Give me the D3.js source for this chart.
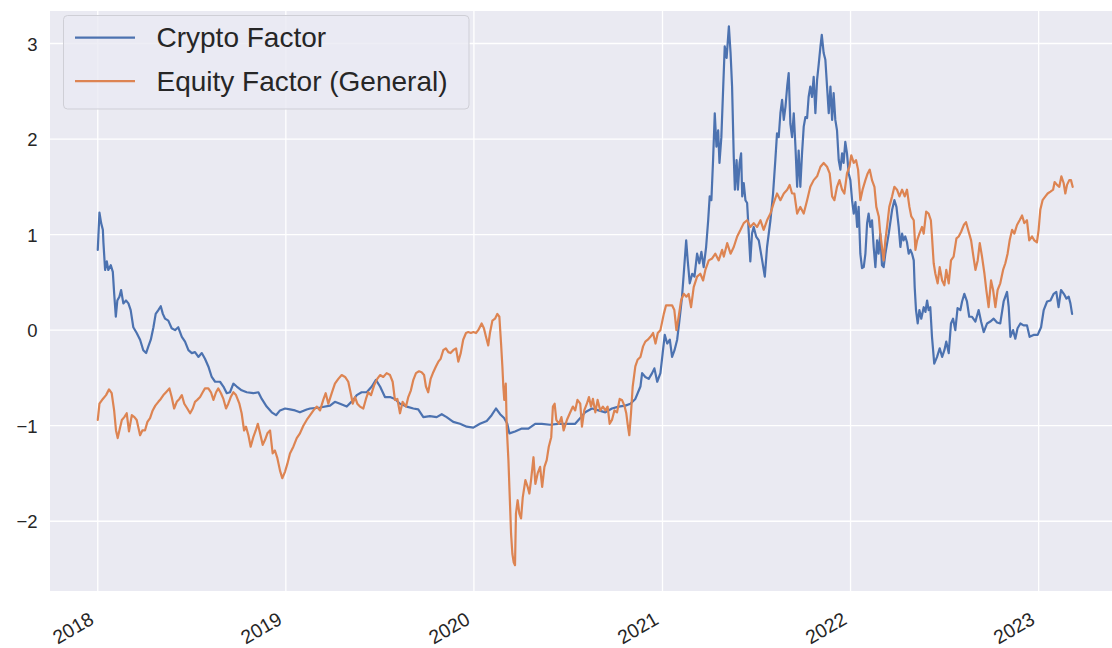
<!DOCTYPE html>
<html><head><meta charset="utf-8">
<script src="https://cdn.jsdelivr.net/npm/d3@7"></script>
<style>
body{margin:0;background:#fff;}
text{font-family:"Liberation Sans",Arial,sans-serif;fill:#262626;}
</style>
</head><body>
<svg id="chart" width="1112" height="648"></svg>
<script>
// ---- data (decimal year, factor value) ----
const seriesNames = ["Crypto Factor", "Equity Factor (General)"];
const seriesColors = ["#4c72b0", "#dd8452"];
const yTicks = [-2, -1, 0, 1, 2, 3];
const xTickYears = [2018, 2019, 2020, 2021, 2022, 2023];

const cryptoFactor = [
[2018.000,0.84],[2018.009,1.23],[2018.018,1.12],[2018.027,1.05],[2018.030,0.92],[2018.039,0.63],[2018.048,0.72],[2018.056,0.63],[2018.069,0.68],[2018.080,0.61],[2018.087,0.39],[2018.096,0.14],[2018.104,0.31],[2018.115,0.35],[2018.124,0.42],[2018.136,0.28],[2018.150,0.31],[2018.163,0.28],[2018.175,0.21],[2018.189,0.03],[2018.207,-0.03],[2018.225,-0.10],[2018.242,-0.21],[2018.257,-0.24],[2018.269,-0.17],[2018.282,-0.10],[2018.296,0.03],[2018.308,0.17],[2018.322,0.21],[2018.335,0.25],[2018.346,0.17],[2018.358,0.12],[2018.375,0.10],[2018.393,0.02],[2018.411,0.00],[2018.428,0.03],[2018.447,-0.07],[2018.464,-0.12],[2018.482,-0.21],[2018.500,-0.24],[2018.517,-0.23],[2018.535,-0.28],[2018.553,-0.24],[2018.570,-0.30],[2018.588,-0.38],[2018.606,-0.49],[2018.624,-0.54],[2018.650,-0.54],[2018.668,-0.59],[2018.686,-0.66],[2018.703,-0.65],[2018.721,-0.56],[2018.739,-0.59],[2018.765,-0.63],[2018.792,-0.65],[2018.827,-0.66],[2018.854,-0.65],[2018.872,-0.72],[2018.898,-0.80],[2018.925,-0.86],[2018.948,-0.89],[2018.969,-0.84],[2018.996,-0.82],
[2019.022,-0.83],[2019.049,-0.84],[2019.075,-0.86],[2019.111,-0.83],[2019.129,-0.82],[2019.182,-0.81],[2019.235,-0.79],[2019.261,-0.75],[2019.288,-0.77],[2019.324,-0.80],[2019.359,-0.73],[2019.377,-0.68],[2019.403,-0.65],[2019.430,-0.65],[2019.457,-0.59],[2019.479,-0.52],[2019.501,-0.59],[2019.527,-0.70],[2019.554,-0.70],[2019.580,-0.72],[2019.607,-0.77],[2019.643,-0.80],[2019.678,-0.82],[2019.704,-0.83],[2019.731,-0.91],[2019.766,-0.90],[2019.802,-0.91],[2019.829,-0.88],[2019.855,-0.91],[2019.890,-0.96],[2019.926,-0.98],[2019.962,-1.01],[2019.997,-1.02],
[2020.032,-0.98],[2020.068,-0.95],[2020.094,-0.89],[2020.117,-0.82],[2020.139,-0.88],[2020.160,-0.92],[2020.177,-0.98],[2020.188,-1.08],[2020.218,-1.06],[2020.254,-1.03],[2020.289,-1.03],[2020.325,-0.98],[2020.360,-0.98],[2020.404,-0.99],[2020.448,-0.98],[2020.493,-0.98],[2020.537,-0.98],[2020.564,-0.92],[2020.590,-0.86],[2020.626,-0.82],[2020.661,-0.84],[2020.697,-0.86],[2020.732,-0.82],[2020.767,-0.80],[2020.803,-0.79],[2020.830,-0.77],[2020.856,-0.72],[2020.883,-0.59],[2020.892,-0.45],[2020.909,-0.49],[2020.927,-0.51],[2020.945,-0.45],[2020.957,-0.40],[2020.972,-0.54],[2020.989,-0.45],
[2021.001,-0.24],[2021.012,-0.05],[2021.025,-0.14],[2021.039,-0.10],[2021.051,-0.28],[2021.064,-0.21],[2021.078,-0.10],[2021.090,0.10],[2021.104,0.35],[2021.113,0.59],[2021.126,0.94],[2021.134,0.73],[2021.145,0.49],[2021.158,0.59],[2021.170,0.56],[2021.184,0.80],[2021.196,0.70],[2021.207,0.82],[2021.219,0.66],[2021.232,0.87],[2021.243,1.15],[2021.251,1.40],[2021.260,1.36],[2021.269,1.78],[2021.278,2.27],[2021.287,1.92],[2021.296,2.09],[2021.303,1.75],[2021.313,2.02],[2021.323,2.55],[2021.331,2.97],[2021.341,2.85],[2021.353,3.18],[2021.362,2.90],[2021.370,2.55],[2021.379,1.81],[2021.385,1.47],[2021.394,1.78],[2021.401,1.47],[2021.410,1.75],[2021.418,1.85],[2021.424,1.40],[2021.432,1.54],[2021.441,1.36],[2021.450,1.33],[2021.459,1.01],[2021.467,0.72],[2021.476,1.01],[2021.485,1.08],[2021.498,0.98],[2021.512,0.94],[2021.530,0.73],[2021.544,0.56],[2021.556,0.87],[2021.574,1.15],[2021.588,1.43],[2021.600,1.78],[2021.609,2.06],[2021.618,2.02],[2021.627,2.27],[2021.636,2.41],[2021.645,2.20],[2021.654,2.34],[2021.663,2.55],[2021.671,2.69],[2021.680,2.16],[2021.689,2.02],[2021.698,2.27],[2021.707,1.92],[2021.716,1.50],[2021.724,1.88],[2021.733,1.50],[2021.742,1.85],[2021.751,2.13],[2021.760,2.23],[2021.769,2.22],[2021.777,2.44],[2021.786,2.55],[2021.795,2.44],[2021.804,2.65],[2021.813,2.27],[2021.822,2.62],[2021.831,2.79],[2021.840,2.97],[2021.847,3.09],[2021.857,2.90],[2021.866,2.83],[2021.875,2.55],[2021.884,2.27],[2021.893,2.55],[2021.902,2.20],[2021.910,2.48],[2021.919,2.20],[2021.928,2.09],[2021.937,1.78],[2021.946,1.68],[2021.955,1.85],[2021.963,1.75],[2021.972,1.97],[2021.981,1.85],[2021.990,1.64],[2021.999,1.57],
[2022.008,1.36],[2022.017,1.22],[2022.026,1.34],[2022.035,1.08],[2022.043,1.29],[2022.052,0.80],[2022.061,0.65],[2022.070,0.66],[2022.079,0.80],[2022.088,1.12],[2022.096,1.22],[2022.105,1.08],[2022.114,1.15],[2022.123,0.87],[2022.132,0.66],[2022.141,0.94],[2022.149,0.80],[2022.158,1.01],[2022.167,0.68],[2022.176,0.66],[2022.185,0.80],[2022.203,1.01],[2022.221,1.26],[2022.233,1.36],[2022.244,1.29],[2022.256,1.08],[2022.265,0.87],[2022.274,1.01],[2022.282,0.94],[2022.291,0.98],[2022.300,0.92],[2022.309,0.80],[2022.318,0.84],[2022.327,0.80],[2022.336,0.73],[2022.341,0.45],[2022.348,0.21],[2022.357,0.07],[2022.366,0.21],[2022.376,0.12],[2022.389,0.24],[2022.398,0.19],[2022.407,0.31],[2022.415,0.21],[2022.424,0.24],[2022.433,-0.07],[2022.445,-0.35],[2022.460,-0.28],[2022.474,-0.19],[2022.487,-0.28],[2022.499,-0.21],[2022.509,-0.12],[2022.522,-0.24],[2022.534,0.07],[2022.545,0.12],[2022.557,0.00],[2022.569,0.23],[2022.584,0.21],[2022.593,0.30],[2022.605,0.38],[2022.619,0.30],[2022.631,0.14],[2022.646,0.14],[2022.664,0.09],[2022.681,0.21],[2022.694,0.09],[2022.708,-0.02],[2022.726,0.07],[2022.743,0.09],[2022.761,0.12],[2022.779,0.08],[2022.796,0.07],[2022.814,0.30],[2022.832,0.40],[2022.841,0.24],[2022.850,-0.07],[2022.864,0.00],[2022.876,-0.09],[2022.888,0.02],[2022.903,0.07],[2022.920,0.05],[2022.938,0.05],[2022.952,-0.07],[2022.973,-0.05],[2022.995,-0.05],
[2023.013,0.03],[2023.027,0.21],[2023.045,0.30],[2023.063,0.31],[2023.080,0.38],[2023.094,0.40],[2023.106,0.24],[2023.119,0.42],[2023.134,0.38],[2023.148,0.33],[2023.160,0.35],[2023.169,0.28],[2023.178,0.17]
];

const equityFactor = [
[2018.000,-0.94],[2018.009,-0.77],[2018.027,-0.72],[2018.044,-0.68],[2018.060,-0.62],[2018.074,-0.66],[2018.087,-0.84],[2018.097,-1.05],[2018.106,-1.13],[2018.115,-1.05],[2018.128,-0.94],[2018.141,-0.91],[2018.154,-0.87],[2018.166,-1.06],[2018.181,-0.89],[2018.195,-0.91],[2018.207,-0.94],[2018.225,-1.10],[2018.237,-1.05],[2018.251,-1.05],[2018.264,-0.96],[2018.278,-0.92],[2018.292,-0.84],[2018.306,-0.79],[2018.322,-0.75],[2018.335,-0.72],[2018.349,-0.68],[2018.363,-0.65],[2018.381,-0.61],[2018.393,-0.70],[2018.406,-0.82],[2018.420,-0.75],[2018.434,-0.72],[2018.447,-0.68],[2018.460,-0.77],[2018.476,-0.82],[2018.491,-0.87],[2018.505,-0.82],[2018.517,-0.75],[2018.529,-0.73],[2018.544,-0.70],[2018.558,-0.65],[2018.570,-0.61],[2018.588,-0.61],[2018.602,-0.65],[2018.615,-0.73],[2018.629,-0.65],[2018.641,-0.61],[2018.655,-0.66],[2018.668,-0.72],[2018.682,-0.82],[2018.694,-0.77],[2018.707,-0.70],[2018.721,-0.65],[2018.735,-0.68],[2018.753,-0.77],[2018.765,-0.87],[2018.778,-1.05],[2018.788,-1.01],[2018.801,-1.10],[2018.813,-1.22],[2018.827,-1.12],[2018.840,-1.05],[2018.851,-0.98],[2018.863,-1.08],[2018.877,-1.20],[2018.889,-1.15],[2018.902,-1.08],[2018.916,-1.05],[2018.930,-1.29],[2018.942,-1.26],[2018.955,-1.34],[2018.969,-1.47],[2018.981,-1.55],[2018.996,-1.48],
[2019.008,-1.40],[2019.022,-1.29],[2019.040,-1.22],[2019.058,-1.13],[2019.075,-1.08],[2019.093,-1.00],[2019.111,-0.94],[2019.129,-0.89],[2019.147,-0.84],[2019.164,-0.80],[2019.182,-0.84],[2019.199,-0.73],[2019.212,-0.66],[2019.226,-0.77],[2019.244,-0.66],[2019.261,-0.56],[2019.279,-0.51],[2019.297,-0.47],[2019.315,-0.49],[2019.332,-0.54],[2019.345,-0.66],[2019.356,-0.77],[2019.368,-0.70],[2019.380,-0.77],[2019.394,-0.80],[2019.412,-0.82],[2019.426,-0.72],[2019.438,-0.65],[2019.453,-0.68],[2019.469,-0.58],[2019.486,-0.51],[2019.501,-0.47],[2019.518,-0.49],[2019.536,-0.45],[2019.554,-0.47],[2019.568,-0.54],[2019.580,-0.73],[2019.593,-0.72],[2019.607,-0.87],[2019.621,-0.75],[2019.639,-0.80],[2019.651,-0.70],[2019.665,-0.63],[2019.678,-0.52],[2019.692,-0.45],[2019.708,-0.43],[2019.722,-0.44],[2019.735,-0.47],[2019.745,-0.59],[2019.757,-0.65],[2019.770,-0.51],[2019.784,-0.44],[2019.798,-0.38],[2019.811,-0.33],[2019.823,-0.30],[2019.837,-0.21],[2019.851,-0.19],[2019.864,-0.23],[2019.876,-0.24],[2019.890,-0.21],[2019.905,-0.19],[2019.917,-0.33],[2019.930,-0.24],[2019.943,-0.10],[2019.958,-0.03],[2019.970,-0.02],[2019.984,-0.03],[2019.997,-0.02],
[2020.011,-0.03],[2020.023,0.00],[2020.041,0.07],[2020.053,0.02],[2020.064,-0.07],[2020.076,-0.16],[2020.085,-0.03],[2020.098,0.10],[2020.112,0.12],[2020.124,0.17],[2020.135,0.14],[2020.144,-0.14],[2020.151,-0.38],[2020.156,-0.59],[2020.161,-0.73],[2020.169,-0.56],[2020.174,-1.01],[2020.183,-1.36],[2020.192,-1.85],[2020.197,-2.13],[2020.204,-2.34],[2020.211,-2.43],[2020.218,-2.46],[2020.223,-1.92],[2020.232,-1.78],[2020.241,-1.92],[2020.250,-1.97],[2020.259,-1.75],[2020.273,-1.57],[2020.285,-1.64],[2020.294,-1.71],[2020.303,-1.57],[2020.316,-1.33],[2020.326,-1.61],[2020.338,-1.50],[2020.351,-1.43],[2020.362,-1.64],[2020.374,-1.43],[2020.386,-1.36],[2020.397,-1.22],[2020.410,-1.12],[2020.419,-0.80],[2020.428,-0.77],[2020.437,-0.94],[2020.451,-0.98],[2020.464,-0.91],[2020.476,-1.05],[2020.493,-0.94],[2020.511,-0.86],[2020.525,-0.80],[2020.537,-0.84],[2020.549,-0.73],[2020.564,-0.77],[2020.573,-1.01],[2020.585,-0.84],[2020.599,-0.77],[2020.610,-0.70],[2020.621,-0.80],[2020.631,-0.72],[2020.644,-0.86],[2020.656,-0.73],[2020.670,-0.84],[2020.684,-0.80],[2020.697,-0.84],[2020.709,-0.80],[2020.720,-0.98],[2020.732,-0.94],[2020.745,-0.84],[2020.759,-0.86],[2020.773,-0.72],[2020.785,-0.73],[2020.798,-0.79],[2020.808,-0.87],[2020.817,-1.01],[2020.824,-1.10],[2020.833,-0.87],[2020.842,-0.59],[2020.856,-0.38],[2020.868,-0.31],[2020.883,-0.28],[2020.897,-0.17],[2020.909,-0.12],[2020.922,-0.10],[2020.936,-0.07],[2020.950,-0.03],[2020.963,-0.14],[2020.975,-0.03],[2020.989,0.00],
[2021.007,0.17],[2021.019,0.26],[2021.033,0.26],[2021.051,0.26],[2021.063,0.21],[2021.074,0.00],[2021.086,0.14],[2021.099,0.31],[2021.113,0.38],[2021.127,0.35],[2021.139,0.38],[2021.152,0.24],[2021.166,0.45],[2021.184,0.56],[2021.201,0.59],[2021.216,0.52],[2021.228,0.63],[2021.246,0.73],[2021.264,0.75],[2021.281,0.80],[2021.299,0.73],[2021.317,0.84],[2021.326,0.77],[2021.344,0.91],[2021.362,0.80],[2021.379,0.87],[2021.397,0.98],[2021.415,1.05],[2021.432,1.12],[2021.450,1.15],[2021.467,1.08],[2021.485,1.12],[2021.503,1.08],[2021.521,1.15],[2021.538,1.05],[2021.556,1.15],[2021.574,1.22],[2021.591,1.33],[2021.609,1.43],[2021.627,1.36],[2021.645,1.43],[2021.663,1.47],[2021.676,1.52],[2021.689,1.43],[2021.701,1.43],[2021.716,1.22],[2021.733,1.29],[2021.751,1.22],[2021.769,1.36],[2021.786,1.50],[2021.804,1.57],[2021.822,1.61],[2021.840,1.71],[2021.857,1.75],[2021.875,1.71],[2021.889,1.64],[2021.902,1.40],[2021.914,1.36],[2021.928,1.50],[2021.941,1.57],[2021.955,1.47],[2021.967,1.43],[2021.981,1.64],[2021.994,1.71],
[2022.004,1.83],[2022.017,1.75],[2022.029,1.78],[2022.040,1.68],[2022.052,1.36],[2022.064,1.47],[2022.079,1.57],[2022.091,1.64],[2022.102,1.68],[2022.114,1.57],[2022.127,1.50],[2022.137,1.29],[2022.150,1.19],[2022.158,1.01],[2022.167,0.87],[2022.176,0.73],[2022.185,0.94],[2022.194,1.08],[2022.206,1.29],[2022.221,1.40],[2022.233,1.50],[2022.247,1.47],[2022.260,1.40],[2022.274,1.47],[2022.288,1.40],[2022.300,1.47],[2022.313,1.29],[2022.323,1.19],[2022.336,1.15],[2022.345,0.84],[2022.354,0.94],[2022.366,1.01],[2022.380,1.08],[2022.389,1.01],[2022.402,1.24],[2022.415,1.22],[2022.427,1.15],[2022.433,0.98],[2022.442,0.70],[2022.451,0.59],[2022.463,0.49],[2022.474,0.66],[2022.487,0.52],[2022.499,0.47],[2022.509,0.63],[2022.522,0.49],[2022.534,0.73],[2022.548,0.77],[2022.563,0.96],[2022.575,0.98],[2022.588,1.03],[2022.602,1.10],[2022.614,1.13],[2022.628,1.03],[2022.641,0.94],[2022.651,0.80],[2022.664,0.63],[2022.676,0.73],[2022.687,0.91],[2022.699,0.77],[2022.712,0.59],[2022.722,0.42],[2022.734,0.24],[2022.747,0.52],[2022.758,0.42],[2022.770,0.24],[2022.782,0.42],[2022.796,0.49],[2022.811,0.63],[2022.823,0.70],[2022.835,0.80],[2022.846,0.94],[2022.859,1.05],[2022.871,1.01],[2022.885,1.10],[2022.899,1.15],[2022.912,1.20],[2022.924,1.12],[2022.938,1.15],[2022.950,0.94],[2022.965,0.98],[2022.977,0.94],[2022.991,0.92],
[2023.000,1.05],[2023.009,1.26],[2023.021,1.36],[2023.036,1.40],[2023.048,1.43],[2023.063,1.45],[2023.077,1.47],[2023.085,1.55],[2023.098,1.52],[2023.110,1.50],[2023.121,1.61],[2023.133,1.54],[2023.142,1.43],[2023.151,1.52],[2023.163,1.57],[2023.172,1.57],[2023.181,1.50]
];

// decimal year -> Date (UTC)
function toDate(t) {
  const yr = Math.floor(t);
  const a = Date.UTC(yr, 0, 1), b = Date.UTC(yr + 1, 0, 1);
  return new Date(a + (t - yr) * (b - a));
}

const W = 1112, H = 648;
const plot = {left: 50, top: 11, right: 1121, bottom: 591};
const svg = d3.select("#chart");

const x = d3.scaleUtc()
  .domain([toDate(2017.746), toDate(2023.438)])
  .range([plot.left, plot.right]);
const y = d3.scaleLinear()
  .domain([-2.73, 3.34])
  .range([plot.bottom, plot.top]);

svg.append("rect").attr("x", 0).attr("y", 0).attr("width", W).attr("height", H).attr("fill", "#ffffff");
svg.append("rect")
  .attr("x", plot.left).attr("y", plot.top)
  .attr("width", plot.right - plot.left).attr("height", plot.bottom - plot.top)
  .attr("fill", "#eaeaf2");

const xTickDates = xTickYears.map(yr => new Date(Date.UTC(yr, 0, 1)));

// grid
const grid = svg.append("g");
grid.selectAll("line.v").data(xTickDates).join("line")
  .attr("x1", d => x(d)).attr("x2", d => x(d))
  .attr("y1", plot.top).attr("y2", plot.bottom)
  .attr("stroke", "#ffffff").attr("stroke-width", 1.3);
grid.selectAll("line.h").data(yTicks).join("line")
  .attr("x1", plot.left).attr("x2", plot.right)
  .attr("y1", d => y(d)).attr("y2", d => y(d))
  .attr("stroke", "#ffffff").attr("stroke-width", 1.3);

// axes
const xAxis = svg.append("g")
  .attr("transform", `translate(0,${plot.bottom})`)
  .call(d3.axisBottom(x).tickValues(xTickDates).tickFormat(d3.utcFormat("%Y")).tickSize(0));
xAxis.select(".domain").remove();
xAxis.selectAll("text")
  .attr("font-size", 19.5)
  .attr("fill", "#262626")
  .attr("text-anchor", "end")
  .attr("x", -3).attr("y", 32).attr("dy", 0)
  .attr("transform", "rotate(-30 -3 32)");

const yAxis = svg.append("g")
  .attr("transform", `translate(${plot.left},0)`)
  .call(d3.axisLeft(y).tickValues(yTicks).tickFormat(d3.format("d")).tickSize(0).tickPadding(12.5));
yAxis.select(".domain").remove();
yAxis.selectAll("text").attr("font-size", 18.5).attr("fill", "#262626").attr("dy", "0.36em");

// lines
const line = d3.line().x(d => x(toDate(d[0]))).y(d => y(d[1]));
svg.append("defs").append("clipPath").attr("id", "clip")
  .append("rect").attr("x", plot.left).attr("y", plot.top)
  .attr("width", plot.right - plot.left).attr("height", plot.bottom - plot.top);
const lines = svg.append("g").attr("clip-path", "url(#clip)");
[cryptoFactor, equityFactor].forEach((s, i) => {
  lines.append("path").datum(s)
    .attr("d", line)
    .attr("fill", "none")
    .attr("stroke", seriesColors[i])
    .attr("stroke-width", 2.2)
    .attr("stroke-linejoin", "round")
    .attr("stroke-linecap", "round");
});

// legend
const lg = svg.append("g");
lg.append("rect")
  .attr("x", 63.5).attr("y", 15.5).attr("width", 405.5).attr("height", 93.5)
  .attr("rx", 4).attr("ry", 4)
  .attr("fill", "#eaeaf2").attr("fill-opacity", 0.8)
  .attr("stroke", "#cfcfd6").attr("stroke-width", 1);
seriesNames.forEach((name, i) => {
  const cy = 37.7 + i * 43.5;
  lg.append("line").attr("x1", 75).attr("x2", 135).attr("y1", cy).attr("y2", cy)
    .attr("stroke", seriesColors[i]).attr("stroke-width", 2.2);
  lg.append("text").attr("x", 156.5).attr("y", cy + 9.5)
    .attr("font-size", 28).attr("fill", "#262626").text(name);
});
</script>
</body></html>
